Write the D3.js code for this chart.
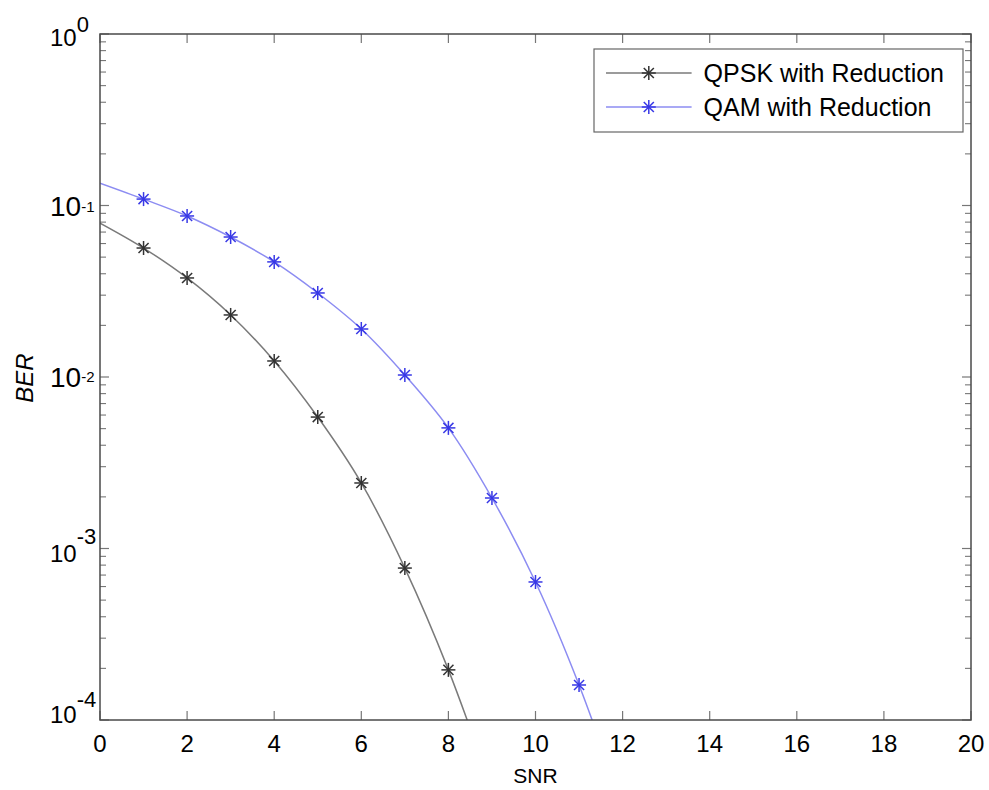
<!DOCTYPE html>
<html>
<head>
<meta charset="utf-8">
<script src="https://cdn.jsdelivr.net/npm/d3@7"></script>
<style>
  html, body { margin: 0; padding: 0; background: #fff; }
  svg { display: block; font-family: "Liberation Sans", Arial, sans-serif; }
</style>
</head>
<body>
<svg id="chart" width="989" height="790"></svg>
<script>
// ---- data ----
const snrQPSK = [0, 1, 2, 3, 4, 5, 6, 7, 8, 9];
const berQPSK = [0.079, 0.0565, 0.0378, 0.0230, 0.0124, 0.00584, 0.00241, 0.000769, 0.000196, 0.000039];
const snrQAM = [0, 1, 2, 3, 4, 5, 6, 7, 8, 9, 10, 11, 12];
const berQAM = [0.135, 0.109, 0.0869, 0.0655, 0.0469, 0.0309, 0.01905, 0.01027, 0.00505, 0.00197, 0.000638, 0.000160, 0.000031];
const seriesNames = ["QPSK with Reduction", "QAM with Reduction"];
const xTicks = [0, 2, 4, 6, 8, 10, 12, 14, 16, 18, 20];
const yTickExps = [0, -1, -2, -3, -4];
const xLabel = "SNR";
const yLabel = "BER";

// ---- styling of the y tick labels (as they appear in the reference) ----
const yLabStyle = [
  { base: 24, sup: 22, baseOff: 12, supDy: -14 },
  { base: 28, sup: 15, baseOff: 10, supDy: -4 },
  { base: 28, sup: 15, baseOff: 10, supDy: -5 },
  { base: 24, sup: 22, baseOff: 13, supDy: -18 },
  { base: 24, sup: 22, baseOff: 3, supDy: -16 }
];

// ---- layout ----
const L = 100, R = 971, T = 34, B = 720;
const svg = d3.select("#chart");

const x = d3.scaleLinear().domain([0, 20]).range([L, R]);
const y = d3.scaleLog().domain([1e-4, 1]).range([B, T]);

const axisColor = "#4a4a4a";
const tickColor = "#777";

svg.append("defs").append("clipPath").attr("id", "clip")
  .append("rect").attr("x", L).attr("y", T).attr("width", R - L).attr("height", B - T);

const g = svg.append("g");
// x ticks (bottom & top, inward)
xTicks.forEach(t => {
  const px = x(t);
  g.append("line").attr("x1", px).attr("x2", px).attr("y1", B).attr("y2", B - 9).attr("stroke", tickColor).attr("stroke-width", 1.2);
  g.append("line").attr("x1", px).attr("x2", px).attr("y1", T).attr("y2", T + 9).attr("stroke", tickColor).attr("stroke-width", 1.2);
  g.append("text").attr("x", px).attr("y", B + 32).attr("text-anchor", "middle")
    .attr("font-size", 24).attr("fill", "#000").text(t);
});

// y ticks: major and minor (left & right, inward)
const yMinor = [];
for (let e = -4; e < 0; e++) for (let m = 2; m <= 9; m++) yMinor.push(m * Math.pow(10, e));
yTickExps.forEach(e => {
  const py = y(Math.pow(10, e));
  [[L, L + 9], [R, R - 9]].forEach(([a, b]) =>
    g.append("line").attr("x1", a).attr("x2", b).attr("y1", py).attr("y2", py).attr("stroke", tickColor).attr("stroke-width", 1.2));
});
yMinor.forEach(v => {
  const pm = y(v);
  [[L, L + 6], [R, R - 6]].forEach(([a, b]) =>
    g.append("line").attr("x1", a).attr("x2", b).attr("y1", pm).attr("y2", pm).attr("stroke", tickColor).attr("stroke-width", 1.1));
});

// y tick labels 10^e
yTickExps.forEach((e, i) => {
  const st = yLabStyle[i];
  const py = y(Math.pow(10, e));
  const t = svg.append("text").attr("x", 50).attr("y", py + st.baseOff)
    .attr("font-size", st.base).attr("fill", "#000");
  t.append("tspan").text("10");
  t.append("tspan").attr("font-size", st.sup).attr("dy", st.supDy).text(String(e));
});

// axis labels
svg.append("text").attr("x", (L + R) / 2).attr("y", 783).attr("text-anchor", "middle")
  .attr("font-size", 21).attr("fill", "#000").text(xLabel);
svg.append("text").attr("transform", `translate(33, 378) rotate(-90)`)
  .attr("text-anchor", "middle").attr("font-size", 24).attr("font-style", "italic").attr("fill", "#000").text(yLabel);

// series
const series = [
  { name: seriesNames[0], xs: snrQPSK, ys: berQPSK, line: "#7a7a7a", mark: "#333333" },
  { name: seriesNames[1], xs: snrQAM, ys: berQAM, line: "#8c8cf2", mark: "#3838e6" }
];

const lineGen = d3.line().x(d => x(d[0])).y(d => y(d[1])).curve(d3.curveCatmullRom);
const plot = svg.append("g").attr("clip-path", "url(#clip)");

function star(sel, cx, cy, r, color) {
  const gg = sel.append("g").attr("transform", `translate(${cx},${cy})`).attr("stroke", color).attr("stroke-width", 1.5).attr("fill", "none");
  gg.append("line").attr("x1", -r).attr("x2", r).attr("y1", 0).attr("y2", 0);
  gg.append("line").attr("x1", 0).attr("x2", 0).attr("y1", -r).attr("y2", r);
  const d = r * 0.72;
  gg.append("line").attr("x1", -d).attr("x2", d).attr("y1", -d).attr("y2", d);
  gg.append("line").attr("x1", -d).attr("x2", d).attr("y1", d).attr("y2", -d);
}

series.forEach(s => {
  const pts = s.xs.map((v, i) => [v, s.ys[i]]);
  plot.append("path").datum(pts).attr("d", lineGen).attr("fill", "none")
    .attr("stroke", s.line).attr("stroke-width", 1.5);
  pts.forEach(p => {
    if (p[0] >= 1 && p[1] >= 1e-4) star(plot, x(p[0]), y(p[1]), 7, s.mark);
  });
});

// axes box
svg.append("rect").attr("x", L).attr("y", T).attr("width", R - L).attr("height", B - T)
  .attr("fill", "none").attr("stroke", axisColor).attr("stroke-width", 1.5);

// legend
const lg = svg.append("g");
const legFont = 25;
const textEnd = 944;
const rowY = [73, 107];
const tmp = lg.append("text").attr("font-size", legFont).text(seriesNames[0]);
const tw = tmp.node().getComputedTextLength();
tmp.remove();
const textStart = textEnd - tw;
const boxL = 594, boxR = 963, boxT = 49, boxB = 132;
lg.append("rect").attr("x", boxL).attr("y", boxT).attr("width", boxR - boxL).attr("height", boxB - boxT)
  .attr("fill", "#fff").attr("stroke", "#666").attr("stroke-width", 1.2);
series.forEach((s, i) => {
  const yy = rowY[i];
  const x1 = boxL + 12, x2 = textStart - 12;
  lg.append("line").attr("x1", x1).attr("x2", x2).attr("y1", yy).attr("y2", yy)
    .attr("stroke", s.line).attr("stroke-width", 1.5);
  star(lg, (x1 + x2) / 2, yy, 7, s.mark);
  lg.append("text").attr("x", textStart).attr("y", yy + 9).attr("font-size", legFont).attr("fill", "#000").text(s.name);
});
</script>
</body>
</html>
